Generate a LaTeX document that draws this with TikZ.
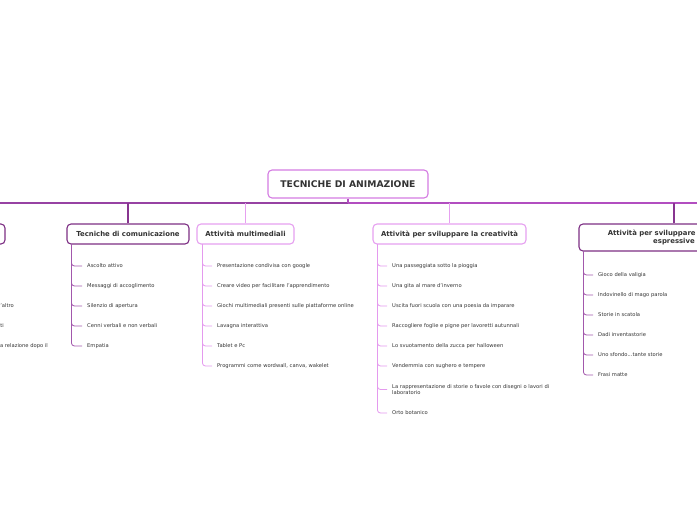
\documentclass[tikz,border=0pt]{standalone}
\usepackage{fontspec}
\setmainfont{DejaVu Sans}
\definecolor{darkP}{HTML}{7D2F84}
\definecolor{lightP}{HTML}{E6A0F0}
\definecolor{rootP}{HTML}{D47CE2}
\definecolor{barP}{HTML}{B24EC0}
\definecolor{leafD}{HTML}{A258AC}
\definecolor{leafL}{HTML}{E49AEE}
\definecolor{txt}{HTML}{333333}
\begin{document}
\begin{tikzpicture}[x=1pt,y=-1pt,
  box/.style={draw, rounded corners=4pt, fill=white, line width=1.1pt,
    font=\bfseries\fontsize{6.9}{8}\selectfont, text=txt, inner sep=0pt, minimum height=20pt},
  leaf/.style={anchor=west, font=\fontsize{5.2}{6.6}\selectfont, text=txt,
    inner xsep=5pt, inner ysep=1pt, align=left},
  leafline/.style={line width=0.8pt, rounded corners=3pt},
  drop/.style={line width=1.2pt},
]
\useasboundingbox (0,0) rectangle (697,520);
\clip (0,0) rectangle (697,520);

% bar
\coordinate (barL) at (0,203);
\coordinate (barM) at (348,203);
\coordinate (barR) at (697,203);
\draw[drop, draw=barP!85!black] (barL) -- (barM);
\draw[drop, draw=barP] (barM) -- (barR);

% root
\node[box, draw=rootP, minimum width=160pt, minimum height=28pt,
  font=\bfseries\fontsize{9.2}{10}\selectfont] (root) at (348,184) {TECNICHE DI ANIMAZIONE};
\draw[drop, draw=barP] (root.south) -- (barM);

% children
\node[box, draw=darkP, minimum width=100pt] (c0) at (-45,234) {};
\node[box, draw=darkP, minimum width=122pt] (c1) at (128,234) {Tecniche di comunicazione};
\node[box, draw=lightP, minimum width=97pt] (c2) at (245.5,234) {Attività multimediali};
\node[box, draw=lightP, minimum width=153pt] (c3) at (449.5,234) {Attività per sviluppare la creatività};
\node[box, draw=darkP, minimum width=190pt, minimum height=27pt, align=center] (c4) at (674,237.5)
  {Attività per sviluppare le capacità\\espressive};

\draw[drop, draw=darkP!80!barP] (c1.north) -- (c1.north |- barL);
\draw[drop, draw=lightP] (c2.north) -- (c2.north |- barL);
\draw[drop, draw=lightP] (c3.north) -- (c3.north |- barL);
\draw[drop, draw=darkP!80!barP] (c4.north) -- (c4.north |- barL);

% leaf line tops
\coordinate (t1) at ([xshift=5pt]c1.south west);
\coordinate (t2) at ([xshift=6pt]c2.south west);
\coordinate (t3) at ([xshift=5pt]c3.south west);
\coordinate (t4) at ([xshift=5pt]c4.south west);

% Tecniche di comunicazione
\foreach [count=\i] \t in {Ascolto attivo, Messaggi di accoglimento, Silenzio di apertura,
  Cenni verbali e non verbali, Empatia} {
  \node[leaf] (a\i) at (82,{246+20*\i}) {\t};
  \draw[leafline, draw=leafD] (t1) |- (a\i.west);
}

% Attivita multimediali
\foreach [count=\i] \t in {Presentazione condivisa con google,
  Creare video per facilitare l'apprendimento,
  Giochi multimediali presenti sulle piattaforme online,
  Lavagna interattiva, Tablet e Pc, {Programmi come wordwall, canva, wakelet}} {
  \node[leaf] (b\i) at (212,{246+20*\i}) {\t};
  \draw[leafline, draw=leafL] (t2) |- (b\i.west);
}

% Creativita
\foreach [count=\i] \t in {Una passeggiata sotto la pioggia, Una gita al mare d'inverno,
  Uscita fuori scuola con una poesia da imparare,
  Raccogliere foglie e pigne per lavoretti autunnali,
  Lo svuotamento della zucca per halloween, Vendemmia con sughero e tempere} {
  \node[leaf] (d\i) at (387,{246+20*\i}) {\t};
  \draw[leafline, draw=leafL] (t3) |- (d\i.west);
}
\node[leaf] (d7) at (387,389.5) {La rappresentazione di storie o favole con disegni o lavori di\\laboratorio};
\draw[leafline, draw=leafL] (t3) |- (d7.west);
\node[leaf] (d8) at (387,413) {Orto botanico};
\draw[leafline, draw=leafL] (t3) |- (d8.west);

% Espressive
\foreach [count=\i] \t in {Gioco della valigia, Indovinello di mago parola, Storie in scatola,
  Dadi inventastorie} {
  \node[leaf] (e\i) at (593,{255+20*\i}) {\t};
  \draw[leafline, draw=leafD] (t4) |- (e\i.west);
}
\node[leaf] (e5) at (593,355) {Uno sfondo...tante storie};
\draw[leafline, draw=leafD] (t4) |- (e5.west);
\node[leaf] (e6) at (593,375) {Frasi matte};
\draw[leafline, draw=leafD] (t4) |- (e6.west);

% left cut-off items
\node[leaf, anchor=east] (z1) at (19,306) {rispetto dell'altro};
\node[leaf, anchor=east] (z2) at (9,326) {conflitti};
\node[leaf, anchor=east] (z3) at (53,346) {Ricostruire la relazione dopo il};
\end{tikzpicture}
\end{document}
